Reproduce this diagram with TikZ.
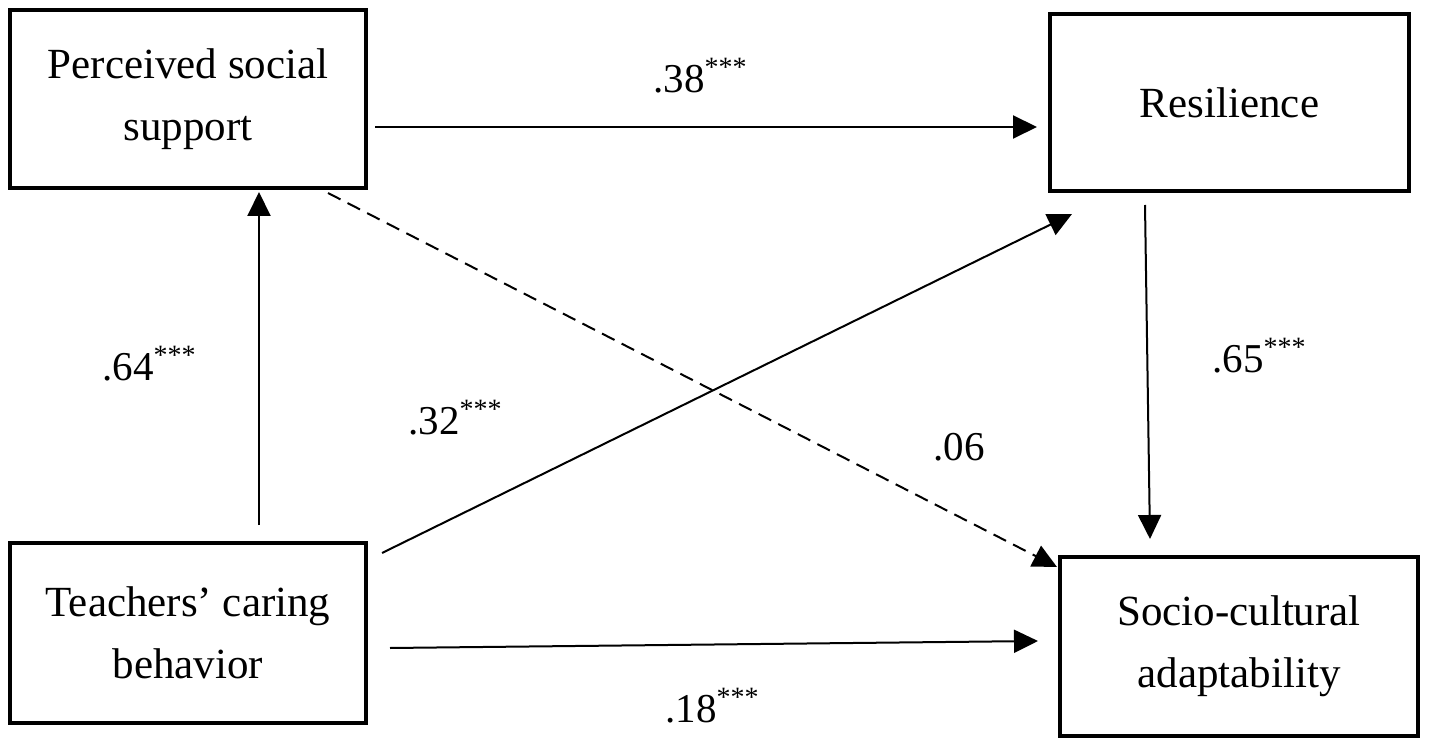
\documentclass[tikz,border=0pt]{standalone}
\usepackage{fontspec}
\setmainfont{Liberation Serif}
\usetikzlibrary{arrows.meta,calc}
\newcommand{\stars}{{\fontsize{14}{14}\selectfont\raisebox{8pt}{***}}}
\begin{document}
\begin{tikzpicture}[x=0.5pt,y=-0.5pt,
  box/.style={draw,line width=2pt,rectangle,align=center,inner sep=0pt,
    font=\fontsize{21.5}{31}\selectfont},
  arr/.style={line width=1pt,-{Triangle[length=12pt,width=11.5pt]}},
  dasharr/.style={arr,dash pattern=on 7pt off 4pt},
  lab/.style={inner sep=0pt,anchor=base west,font=\fontsize{20.5}{24}\selectfont}]
\useasboundingbox (0,0) rectangle (1429,748);

\node[box,minimum width=178pt,minimum height=89pt] (pss) at (188,99) {Perceived social\\support};
\node[box,minimum width=179.5pt,minimum height=88.5pt] (res) at (1229.5,102.5) {Resilience};
\node[box,minimum width=178pt,minimum height=90pt] (tcb) at (188,633) {Teachers’ caring\\behavior};
\node[box,minimum width=179pt,minimum height=89.5pt] (sca) at (1239,646.5) {Socio-cultural\\adaptability};

\draw[arr] ($(pss.east)+(7,28)$) -- ($(res.west)+(-11,24.5)$);
\draw[arr] ($(tcb.north)+(71,-16)$) -- ($(pss.south)+(71,2)$);
\draw[arr] ($(tcb.north east)+(14,12)$) -- ($(res.south west)+(24,21)$);
\draw[dasharr] ($(pss.south)+(140,3)$) -- ($(sca.north west)+(-1,12)$);
\draw[arr] ($(res.south)+(-84.5,12)$) -- ($(sca.north)+(-89,-16)$);
\draw[arr] ($(tcb.east)+(22,15)$) -- ($(sca.west)+(-20,-5.5)$);

\node[lab] (l38) at (653,93) {.38\stars};
\node[lab] (l64) at (102,380) {.64\stars};
\node[lab] (l32) at (408,435) {.32\stars};
\node[lab] (l06) at (933,460) {.06};
\node[lab] (l65) at (1212,372) {.65\stars};
\node[lab] (l18) at (665,722) {.18\stars};
\end{tikzpicture}
\end{document}
